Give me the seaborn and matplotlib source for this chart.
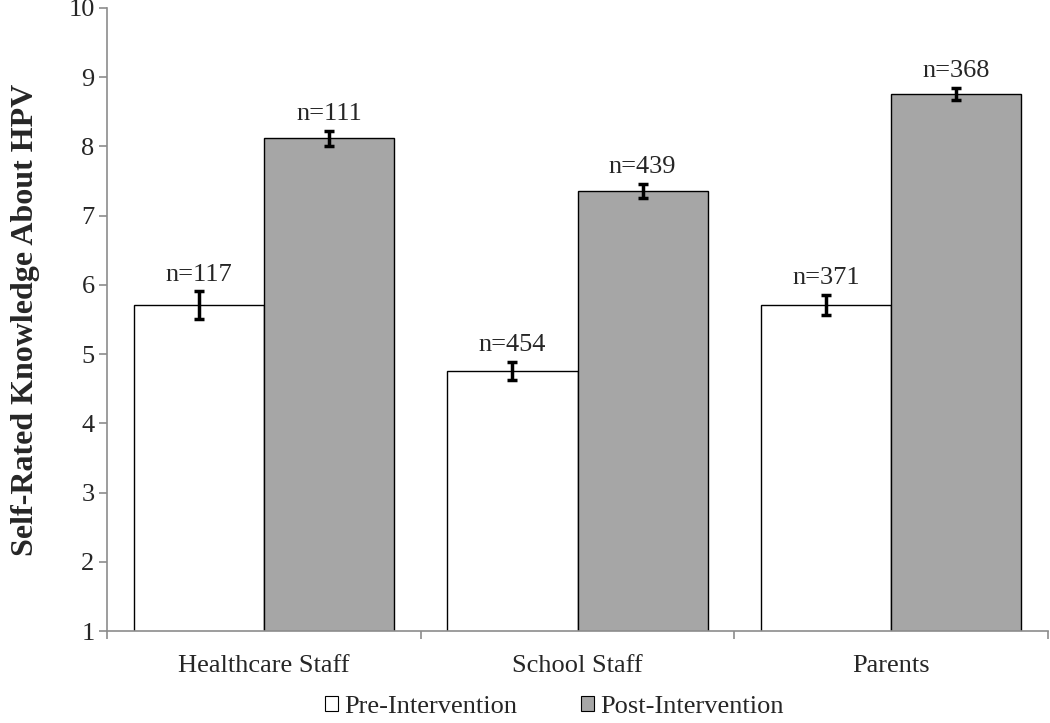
import numpy as np
import pandas as pd
import matplotlib.pyplot as plt
import seaborn as sns
from matplotlib.patches import Patch

# data
groups = ["Healthcare Staff", "School Staff", "Parents"]
phases = ["Pre-Intervention", "Post-Intervention"]
pre_mean = [5.71, 4.76, 5.71]
post_mean = [8.12, 7.36, 8.76]
pre_err = [0.20, 0.13, 0.15]
post_err = [0.11, 0.10, 0.09]
pre_n = [117, 454, 371]
post_n = [111, 439, 368]

df = pd.DataFrame({
    "group": groups * 2,
    "phase": [phases[0]] * 3 + [phases[1]] * 3,
    "score": pre_mean + post_mean,
    "err": pre_err + post_err,
    "n": pre_n + post_n,
})

sns.set_style("white")
plt.rcParams["font.family"] = ["Liberation Serif", "DejaVu Serif"]

fig = plt.figure(figsize=(10.5, 7.23), dpi=100)
ax = fig.add_axes([0.102, 0.127, 0.896, 0.862])

palette = {phases[0]: "white", phases[1]: "#a6a6a6"}
sns.barplot(data=df, x="group", y="score", hue="phase", order=groups,
            hue_order=phases, palette=palette, width=0.83, gap=0,
            edgecolor="black", linewidth=1.0, saturation=1, errorbar=None,
            legend=False, ax=ax)

# error bars and n labels, placed at the bar centres seaborn drew
for bars, ph in zip(ax.containers, phases):
    sub = df[df["phase"] == ph].set_index("group").loc[groups]
    for rect, (_, row) in zip(bars, sub.iterrows()):
        cx = rect.get_x() + rect.get_width() / 2
        ax.errorbar(cx, row["score"], yerr=row["err"], fmt="none",
                    ecolor="black", elinewidth=2.5, capsize=3.5, capthick=2.5)
        ax.annotate(f"n={row['n']}", (cx, row["score"] + row["err"]),
                    xytext=(0, 4), textcoords="offset points",
                    ha="center", va="bottom", fontsize=19)

ax.set_ylim(1, 10)
ax.set_yticks(range(1, 11))
ax.set_xlim(-0.5, 2.5)
ax.set_xlabel("")
ax.set_ylabel("Self-Rated Knowledge About HPV", fontsize=23, fontweight="bold",
              labelpad=20)

for s in ["top", "right"]:
    ax.spines[s].set_visible(False)
for s in ["left", "bottom"]:
    ax.spines[s].set_color("#8c8c8c")
    ax.spines[s].set_linewidth(1.2)

ax.tick_params(axis="y", which="major", left=True, length=6, width=1.2,
               color="#8c8c8c", labelsize=19, pad=3)
ax.tick_params(axis="x", which="major", bottom=False, labelsize=19, pad=14)
ax.set_xticks([-0.5, 0.5, 1.5, 2.5], minor=True)
ax.tick_params(axis="x", which="minor", bottom=True, length=6, width=1.2,
               color="#8c8c8c")

handles = [Patch(facecolor=palette[p], edgecolor="black", linewidth=0.8, label=p)
           for p in phases]
fig.legend(handles=handles, loc="lower center", bbox_to_anchor=(0.528, -0.026),
           ncol=2, frameon=False, fontsize=19, handlelength=0.5,
           handleheight=0.5, handletextpad=0.25, columnspacing=2.4)

fig.savefig("out.png", dpi=100)
plt.close(fig)
